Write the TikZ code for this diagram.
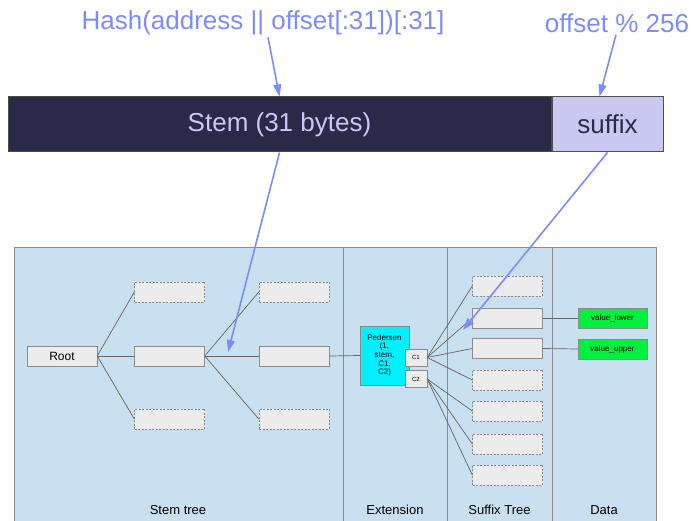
\documentclass[tikz,border=0pt]{standalone}
\usepackage{fontspec}
\setmainfont{Liberation Sans}
\usetikzlibrary{positioning, arrows.meta}
\definecolor{hashblue}{HTML}{7B8CFF}
\definecolor{stemdark}{HTML}{2A2A48}
\definecolor{suffixlav}{HTML}{C8C8F2}
\definecolor{panelblue}{HTML}{C9E0F0}
\definecolor{cellgray}{HTML}{ECECEC}
\definecolor{pedcyan}{HTML}{00F0FF}
\definecolor{valgreen}{HTML}{00F040}

\begin{document}
\begin{tikzpicture}[x=1pt, y=-1pt,
  cell/.style={draw=black!45, fill=cellgray, minimum width=70pt, minimum height=20pt, inner sep=0pt, font=\fontsize{12}{14}\selectfont},
  ghost/.style={cell, dash pattern=on 2pt off 1.5pt},
  small/.style={draw=black!45, fill=cellgray, minimum width=22pt, minimum height=17pt, inner sep=0pt, font=\fontsize{6}{7}\selectfont},
  value/.style={draw=black!45, fill=valgreen, minimum width=69pt, minimum height=20pt, inner sep=0pt, font=\fontsize{8}{9}\selectfont},
  edge/.style={draw=black!60, line width=0.7pt},
  pointer/.style={draw=hashblue, line width=1.6pt, -{Triangle[length=12pt,width=8pt]}},
  panel/.style={fill=panelblue, draw=black!45, line width=1pt},
  caption/.style={font=\fontsize{13}{15}\selectfont},
  big/.style={font=\fontsize{26}{31}\selectfont}]

\useasboundingbox (0,0) rectangle (697,521);

% background panels
\draw[panel] (14,248) rectangle (343,526);
\draw[panel] (343,248) rectangle (447,526);
\draw[panel] (447,248) rectangle (552,526);
\draw[panel] (552,248) rectangle (656,526);
\node[caption] (stemcap) at (178,510) {Stem tree};
\node[caption] (extcap) at (395,510) {Extension};
\node[caption] (sufcap) at (499.5,510) {Suffix Tree};
\node[caption] (datacap) at (604,510) {Data};

% key layout
\node[draw=black!70, line width=1pt, fill=stemdark, text=suffixlav, minimum width=543pt, minimum height=55pt, inner sep=0pt, big] (stem) at (279.5,124.5) {Stem (31 bytes)};
\node[draw=black!70, line width=1pt, fill=suffixlav, text=stemdark, minimum width=111pt, minimum height=55pt, inner sep=0pt, big, right=0pt of stem] (suffix) {suffix};
\node[big, text=hashblue, inner sep=2pt] (hash) at (263,23) {Hash(address || offset[:31])[:31]};
\node[big, text=hashblue, inner sep=2pt] (offs) at (617,23) {offset \% 256};

% stem tree
\node[cell] (root) at (62,356) {Root};
\node[cell] (s1) at (169.5,356) {};
\node[ghost] (s1up) at (169.5,292) {};
\node[ghost] (s1dn) at (169.5,419) {};
\node[cell] (s2) at (294,356) {};
\node[ghost] (s2up) at (294,292) {};
\node[ghost] (s2dn) at (294,419) {};

% extension
\node[draw=black!45, fill=pedcyan, minimum width=49pt, minimum height=59pt, inner sep=0pt, align=center, font=\fontsize{8}{8.6}\selectfont] (ped) at (384.5,355.5) {Pedersen\\(1,\\stem,\\C1,\\C2)};
\node[small] (c1) at (416,357.5) {C1};
\node[small] (c2) at (416,379) {C2};

% suffix tree
\node[ghost] (t1) at (507.5,286) {};
\node[cell] (t2) at (507.5,318) {};
\node[cell] (t3) at (507.5,348.5) {};
\node[ghost] (t4) at (507.5,380) {};
\node[ghost] (t5) at (507.5,411) {};
\node[ghost] (t6) at (507.5,444) {};
\node[ghost] (t7) at (507.5,475) {};

% data
\node[value] (vlow) at (612.5,318) {value\_lower};
\node[value] (vup) at (612.5,349) {value\_upper};

% edges
\foreach \n in {s1up,s1,s1dn} \draw[edge] (root.east) -- (\n.west);
\foreach \n in {s2up,s2,s2dn} \draw[edge] (s1.east) -- (\n.west);
\draw[edge] (s2.east) -- (ped.west);
\foreach \n in {t1,t2,t3,t4} \draw[edge] (c1.east) -- (\n.west);
\foreach \n in {t5,t6,t7} \draw[edge] (c2.east) -- (\n.west);
\draw[edge] (t2.east) -- (vlow.west);
\draw[edge] (t3.east) -- (vup.west);

% pointers
\coordinate (stemhit) at (228,352);
\coordinate (suffixhit) at (463,330);
\draw[pointer] ([xshift=5pt]hash.south) -- (stem.north);
\draw[pointer] ([xshift=-1pt]offs.south) -- ([xshift=-8pt]suffix.north);
\draw[pointer] (stem.south) -- (stemhit);
\draw[pointer] (suffix.south) -- (suffixhit);
\end{tikzpicture}
\end{document}
